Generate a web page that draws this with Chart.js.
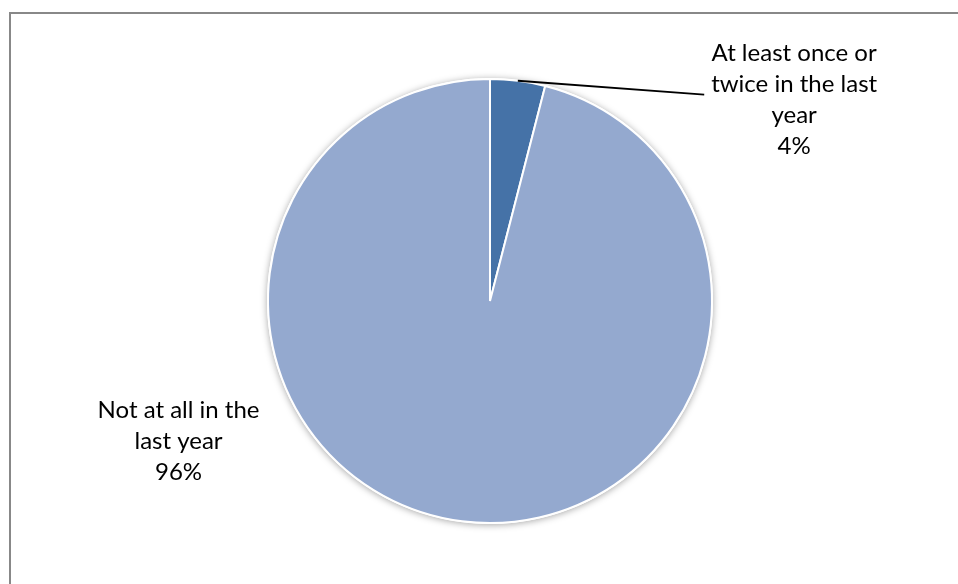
<!DOCTYPE html>
<html>
<head>
<meta charset="utf-8">
<script src="https://cdn.jsdelivr.net/npm/chart.js@4/dist/chart.umd.min.js"></script>
<style>
html,body{margin:0;padding:0;background:#fff;}
#wrap{position:relative;width:958px;height:584px;}
</style>
</head>
<body>
<div id="wrap"><canvas id="c" width="958" height="584"></canvas></div>
<script>
const categories = ["At least once or twice in the last year", "Not at all in the last year"];
const labelLines = [["At least once or", "twice in the last", "year"], ["Not at all in the", "last year"]];
const values = [4, 96];
const percentLabels = ["4%", "96%"];
const sliceColors = ["#4572A7", "#94A9CF"];

const FONT = '24px Lato, "Open Sans", sans-serif';

const framePlugin = {
  id: 'frame',
  beforeDraw(chart) {
    const ctx = chart.ctx;
    ctx.save();
    ctx.fillStyle = '#fff';
    ctx.fillRect(0, 0, chart.width, chart.height);
    ctx.strokeStyle = '#888888';
    ctx.lineWidth = 2;
    ctx.beginPath();
    ctx.moveTo(10, chart.height + 5);
    ctx.lineTo(10, 13);
    ctx.lineTo(chart.width + 5, 13);
    ctx.stroke();
    ctx.restore();
  }
};

const shadowPlugin = {
  id: 'pieShadow',
  beforeDatasetsDraw(chart) {
    const arc = chart.getDatasetMeta(0).data[0];
    if (!arc) return;
    const ctx = chart.ctx;
    ctx.save();
    ctx.shadowColor = 'rgba(0,0,0,0.35)';
    ctx.shadowBlur = 7;
    ctx.shadowOffsetX = 0;
    ctx.shadowOffsetY = 1;
    ctx.fillStyle = '#fff';
    ctx.beginPath();
    ctx.arc(arc.x, arc.y, arc.outerRadius + 1, 0, Math.PI * 2);
    ctx.fill();
    ctx.restore();
  }
};

const labelPlugin = {
  id: 'sliceLabels',
  afterDatasetsDraw(chart) {
    const meta = chart.getDatasetMeta(0);
    const ctx = chart.ctx;
    ctx.save();
    ctx.font = FONT;
    ctx.fillStyle = '#000';
    ctx.textAlign = 'center';
    ctx.textBaseline = 'middle';
    const lh = 31;
    meta.data.forEach((arc, i) => {
      const cx = arc.x, cy = arc.y, r = arc.outerRadius;
      const mid = (arc.startAngle + arc.endAngle) / 2;
      const lines = labelLines[i].concat([percentLabels[i]]);
      let tx, ty;
      if (i === 0) {
        const sx = cx + Math.cos(mid) * r;
        const sy = cy + Math.sin(mid) * r;
        const ex = cx + r * 0.965;
        const ey = cy - r * 0.93;
        ctx.strokeStyle = '#000';
        ctx.lineWidth = 1.8;
        ctx.beginPath();
        ctx.moveTo(sx, sy);
        ctx.lineTo(ex, ey);
        ctx.stroke();
        tx = cx + r * 1.37;
        ty = cy - r * 0.905;
      } else {
        tx = cx - r * 1.403;
        ty = cy + r * 0.63;
      }
      const top = ty - (lines.length - 1) * lh / 2;
      lines.forEach((ln, k) => ctx.fillText(ln, tx, top + k * lh));
    });
    ctx.restore();
  }
};

new Chart(document.getElementById('c'), {
  type: 'pie',
  data: {
    labels: categories,
    datasets: [{
      data: values,
      backgroundColor: sliceColors,
      borderColor: '#ffffff',
      borderWidth: 2
    }]
  },
  options: {
    responsive: false,
    animation: false,
    layout: { padding: { top: 78, bottom: 60, left: 267, right: 245 } },
    plugins: {
      legend: { display: false },
      tooltip: { enabled: false },
      title: { display: false }
    }
  },
  plugins: [framePlugin, shadowPlugin, labelPlugin]
});
</script>
</body>
</html>
